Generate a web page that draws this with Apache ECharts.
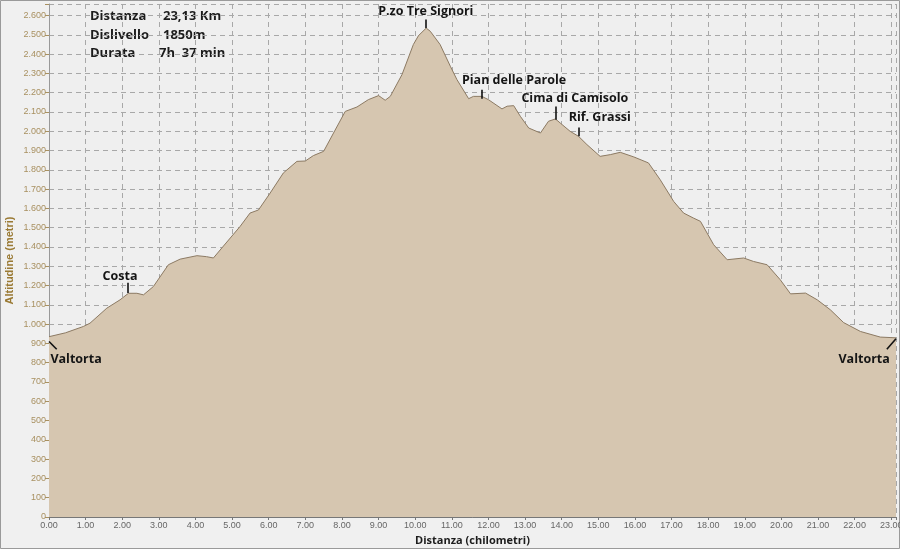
<!DOCTYPE html>
<html>
<head>
<meta charset="utf-8">
<script src="https://cdn.jsdelivr.net/npm/echarts@6/dist/echarts.min.js"></script>
<style>
html,body{margin:0;padding:0;background:#f0f0f0;}
#chart{width:900px;height:549px;}
</style>
</head>
<body>
<div id="chart"></div>
<script>
// Distance (km) along the route
var distances = [0.00,0.45,0.94,1.12,1.58,1.94,2.17,2.40,2.58,2.85,3.26,3.58,4.04,4.30,4.49,4.72,5.22,5.49,5.72,6.04,6.40,6.77,7.00,7.22,7.50,7.77,8.09,8.41,8.72,9.00,9.09,9.18,9.32,9.64,9.95,10.09,10.30,10.41,10.68,10.96,11.14,11.46,11.59,11.82,12.00,12.37,12.51,12.69,12.87,13.10,13.42,13.64,13.83,13.96,14.23,14.46,14.69,15.05,15.33,15.60,15.97,16.37,16.69,17.06,17.33,17.60,17.79,18.15,18.52,18.97,19.24,19.61,19.97,20.25,20.66,20.98,21.34,21.70,22.16,22.70,23.13];
// Altitude (m)
var altitudes = [935,955,988,1005,1083,1126,1160,1160,1152,1195,1308,1337,1355,1350,1343,1395,1507,1576,1592,1680,1784,1844,1846,1874,1896,1991,2103,2126,2164,2185,2173,2161,2181,2294,2450,2496,2535,2519,2450,2337,2268,2169,2181,2181,2164,2116,2130,2133,2078,2017,1991,2052,2064,2043,2000,1974,1931,1870,1879,1891,1867,1836,1749,1636,1576,1550,1533,1412,1334,1343,1325,1308,1230,1157,1161,1126,1074,1008,962,933,929];

// Waypoint names, label anchor positions (km, m) and marker segments
var placeNames  = ["Valtorta","Costa","P.zo Tre Signori","Pian delle Parole","Cima di Camisolo","Rif. Grassi","Valtorta"];
var labelKm     = [0.74, 1.94, 10.29, 12.70, 14.36, 15.04, 22.26];
var labelAlt    = [818, 1247, 2622, 2263, 2169, 2074, 815];
var markKmFrom  = [0.00, 2.15, 10.30, 11.82, 13.83, 14.46, 22.88];
var markKmTo    = [0.21, 2.15, 10.30, 11.82, 13.83, 14.46, 23.13];
var markAltFrom = [910, 1161, 2536, 2169, 2060, 1974, 870];
var markAltTo   = [870, 1214, 2579, 2216, 2128, 2019, 924];

// Summary box
var infoKeys   = ["Distanza","Dislivello","Durata"];
var infoValues = ["23,13 Km","1850m","7h  37 min"];

// Axis settings
var yMin = 0, yMax = 2660, yStep = 100;
var xMin = 0, xMax = 23.13, xStep = 1;
var xAxisName = "Distanza (chilometri)";
var yAxisName = "Altitudine (metri)";

var profile = distances.map(function(d,i){return [d, altitudes[i]];});
var segs = markKmFrom.map(function(k,i){
  return [{coord:[k, markAltFrom[i]]},{coord:[markKmTo[i], markAltTo[i]]}];
});
var labels = placeNames.map(function(n,i){
  return {name:n, coord:[labelKm[i], labelAlt[i]], value:n};
});

function fmtThousands(v){
  var s = String(Math.round(v));
  return s.replace(/\B(?=(\d{3})+(?!\d))/g, '.');
}

var textFont = "'Open Sans', sans-serif";
var graphics = [{
  type:'rect', silent:true, z:-1,
  shape:{x:0.5,y:0.5,width:899,height:548},
  style:{fill:'none', stroke:'#9a9a9a', lineWidth:1}
}];
infoKeys.forEach(function(k,i){
  graphics.push({type:'text', left:90, top:10+i*18.5, silent:true,
    style:{text:k, font:"bold 13px "+textFont, fill:'#1c1c1c'}});
  graphics.push({type:'text', left:(i===2?159:163), top:10+i*18.5, silent:true,
    style:{text:infoValues[i], font:"bold 13px "+textFont, fill:'#1c1c1c'}});
});

var chart = echarts.init(document.getElementById('chart'), null, {renderer:'canvas'});
chart.setOption({
  backgroundColor:'#f0f0f0',
  animation:false,
  grid:{left:49, right:4, top:4, bottom:32, show:true, backgroundColor:'#efefef', borderWidth:0,
        containLabel:false, outerBoundsMode:'none'},
  xAxis:{
    type:'value', min:xMin, max:xMax, interval:xStep,
    name:xAxisName, nameLocation:'middle', nameGap:18, nameMoveOverlap:false,
    nameTextStyle:{fontFamily:textFont, fontWeight:'bold', fontSize:11, color:'#1c1c1c'},
    axisLine:{show:true, onZero:false, lineStyle:{color:'#777', width:1}},
    axisTick:{show:true, length:3, lineStyle:{color:'#777'}},
    axisLabel:{margin:4, fontFamily:'Liberation Sans, Arial, sans-serif', fontSize:9, color:'#666',
      formatter:function(v){ return Math.abs(v-Math.round(v))<1e-6 ? v.toFixed(2) : ''; }},
    splitLine:{show:true, lineStyle:{color:'#a8a8a8', type:[5,4], width:1}}
  },
  yAxis:{
    type:'value', min:yMin, max:yMax, interval:yStep,
    name:yAxisName, nameLocation:'middle', nameGap:34, nameMoveOverlap:false,
    nameTextStyle:{fontFamily:'Liberation Sans, Arial, sans-serif', fontWeight:'bold', fontSize:11, color:'#9a7a34'},
    axisLine:{show:true, lineStyle:{color:'#999', width:1}},
    axisTick:{show:true, length:4, lineStyle:{color:'#a89060'}},
    axisLabel:{margin:3, fontFamily:'Liberation Sans, Arial, sans-serif', fontSize:9, color:'#a89060',
      formatter:function(v){ return v % 100 === 0 ? fmtThousands(v) : ''; }},
    splitLine:{show:true, lineStyle:{color:'#a8a8a8', type:[5,4], width:1}}
  },
  graphic:graphics,
  series:[{
    type:'line', data:profile, showSymbol:false, smooth:false, clip:false,
    lineStyle:{color:'#8c7a63', width:1},
    areaStyle:{color:'#d6c6b0', opacity:1},
    markLine:{
      silent:true, symbol:['none','none'], animation:false,
      lineStyle:{color:'#111', width:1.6, type:'solid'},
      label:{show:false},
      data:segs
    },
    markPoint:{
      silent:true, symbol:'circle', symbolSize:0, animation:false,
      label:{show:true, position:'inside', formatter:'{b}',
        fontFamily:textFont, fontWeight:'bold', fontSize:12.5, color:'#151515'},
      data:labels
    }
  }]
});
</script>
</body>
</html>
